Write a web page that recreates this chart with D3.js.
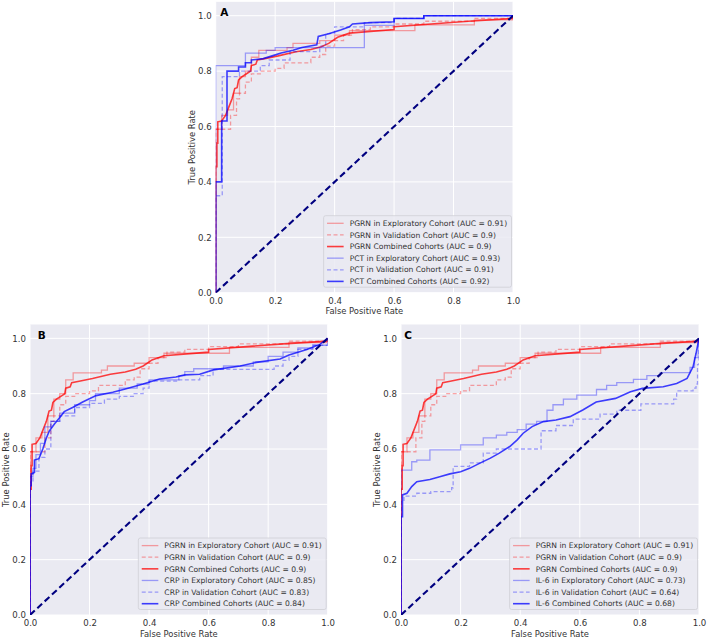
<!DOCTYPE html>
<html><head><meta charset="utf-8">
<script src="https://cdn.jsdelivr.net/npm/d3@7"></script>
<style>
body{margin:0;background:#fff;}
svg{display:block;}
text{font-family:"DejaVu Sans",sans-serif;}
</style>
</head><body>
<svg id="chart" width="708" height="640"></svg>
<script>
// ---------- DATA (fpr, tpr) ----------
const fprTicks = [0, 0.2, 0.4, 0.6, 0.8, 1.0];
const tprTicks = [0, 0.2, 0.4, 0.6, 0.8, 1.0];
const tickLabels = ["0.0", "0.2", "0.4", "0.6", "0.8", "1.0"];

// step-curves: each point [fpr, tpr] = at this fpr the curve rises to tpr
const pgrnExploratory = [[0,0],[0,0.59],[0.02,0.64],[0.04,0.66],[0.06,0.72],[0.08,0.78],[0.10,0.80],[0.12,0.85],[0.145,0.875],[0.24,0.885],[0.26,0.90],[0.35,0.91],[0.40,0.93],[0.45,0.946],[0.67,0.967],[0.87,0.985],[1.0,1.0]];
const pgrnValidation = [[0,0],[0,0.59],[0.05,0.64],[0.07,0.70],[0.08,0.72],[0.10,0.76],[0.12,0.79],[0.15,0.80],[0.20,0.81],[0.23,0.83],[0.32,0.85],[0.35,0.86],[0.37,0.89],[0.40,0.91],[0.43,0.93],[0.46,0.95],[0.52,0.96],[0.60,0.97],[0.70,0.98],[0.87,0.99],[1.0,1.0]];
// combined curves: vertices joined by straight segments
const pgrnCombined = [[0,0],[0,0.455],[0.004,0.455],[0.004,0.54],[0.007,0.54],[0.007,0.617],[0.02,0.62],[0.033,0.64],[0.044,0.67],[0.055,0.70],[0.06,0.72],[0.064,0.737],[0.072,0.74],[0.077,0.768],[0.089,0.78],[0.11,0.795],[0.117,0.80],[0.12,0.82],[0.135,0.825],[0.14,0.84],[0.165,0.845],[0.21,0.855],[0.27,0.87],[0.32,0.878],[0.355,0.888],[0.38,0.90],[0.41,0.922],[0.45,0.937],[0.60,0.95],[0.60,0.96],[0.85,0.98],[1.0,0.99],[1.0,1.0]];

const pctExploratory = [[0,0],[0,0.82],[0.10,0.865],[0.17,0.875],[0.20,0.885],[0.50,0.965],[0.60,0.99],[0.70,1.0],[1.0,1.0]];
const pctValidation = [[0,0],[0,0.35],[0.022,0.78],[0.08,0.80],[0.15,0.82],[0.18,0.84],[0.25,0.87],[0.35,0.89],[0.37,0.935],[0.40,0.96],[0.50,0.975],[0.60,0.99],[0.70,1.0],[1.0,1.0]];
const pctCombined = [[0,0],[0,0.40],[0.02,0.40],[0.02,0.62],[0.038,0.62],[0.038,0.80],[0.077,0.80],[0.077,0.815],[0.10,0.815],[0.10,0.83],[0.12,0.83],[0.12,0.84],[0.16,0.845],[0.19,0.855],[0.22,0.865],[0.26,0.875],[0.29,0.885],[0.34,0.895],[0.345,0.925],[0.38,0.935],[0.42,0.948],[0.45,0.96],[0.46,0.97],[0.52,0.975],[0.60,0.978],[0.60,0.99],[0.70,0.99],[0.70,1.0],[1.0,1.0]];

const crpExploratory = [[0,0],[0,0.50],[0.01,0.53],[0.02,0.58],[0.035,0.62],[0.05,0.68],[0.07,0.70],[0.10,0.73],[0.15,0.76],[0.20,0.775],[0.22,0.80],[0.30,0.82],[0.36,0.835],[0.40,0.85],[0.50,0.865],[0.52,0.88],[0.55,0.89],[0.65,0.90],[0.75,0.915],[0.80,0.935],[0.85,0.95],[0.90,0.965],[0.95,0.975],[1.0,1.0]];
const crpValidation = [[0,0],[0,0.48],[0.01,0.52],[0.03,0.57],[0.05,0.60],[0.07,0.70],[0.10,0.72],[0.15,0.75],[0.20,0.765],[0.25,0.78],[0.30,0.79],[0.35,0.80],[0.38,0.82],[0.40,0.845],[0.50,0.85],[0.57,0.865],[0.615,0.888],[0.82,0.90],[0.85,0.92],[0.87,0.935],[0.90,0.96],[0.95,0.975],[1.0,1.0]];
const crpCombined = [[0,0],[0,0.467],[0.004,0.467],[0.004,0.51],[0.015,0.515],[0.015,0.56],[0.03,0.565],[0.043,0.60],[0.055,0.64],[0.065,0.665],[0.082,0.69],[0.10,0.714],[0.115,0.735],[0.143,0.75],[0.177,0.77],[0.222,0.793],[0.278,0.805],[0.32,0.817],[0.38,0.835],[0.435,0.853],[0.49,0.86],[0.52,0.868],[0.57,0.87],[0.616,0.886],[0.706,0.90],[0.76,0.913],[0.84,0.925],[0.87,0.94],[0.93,0.96],[0.974,0.978],[1.0,1.0]];

const il6Exploratory = [[0,0],[0,0.524],[0.036,0.554],[0.053,0.56],[0.097,0.597],[0.20,0.615],[0.276,0.64],[0.32,0.65],[0.355,0.66],[0.39,0.67],[0.42,0.69],[0.455,0.70],[0.49,0.74],[0.51,0.76],[0.545,0.78],[0.59,0.795],[0.656,0.815],[0.69,0.83],[0.724,0.84],[0.78,0.852],[0.825,0.865],[0.87,0.876],[0.97,0.895],[0.985,0.93],[0.997,0.99],[1.0,1.0]];
const il6Validation = [[0,0],[0,0.41],[0.01,0.43],[0.053,0.44],[0.10,0.446],[0.17,0.46],[0.175,0.537],[0.23,0.55],[0.276,0.585],[0.32,0.60],[0.47,0.666],[0.52,0.685],[0.578,0.708],[0.668,0.726],[0.724,0.74],[0.805,0.763],[0.915,0.78],[0.925,0.81],[0.98,0.82],[0.99,0.835],[0.995,0.905],[1.0,1.0]];
const il6Combined = [[0,0],[0,0.355],[0.005,0.355],[0.005,0.434],[0.02,0.44],[0.036,0.464],[0.053,0.482],[0.097,0.49],[0.13,0.50],[0.164,0.51],[0.20,0.518],[0.23,0.53],[0.265,0.549],[0.30,0.567],[0.33,0.585],[0.365,0.609],[0.39,0.633],[0.41,0.657],[0.44,0.681],[0.478,0.699],[0.52,0.705],[0.567,0.717],[0.61,0.741],[0.655,0.77],[0.72,0.783],[0.77,0.807],[0.81,0.819],[0.88,0.825],[0.925,0.837],[0.96,0.855],[0.98,0.897],[0.99,0.945],[1.0,1.0]];

const chanceLine = [[0,0],[1,1]];

const legendA = ["PGRN in Exploratory Cohort (AUC = 0.91)","PGRN in Validation Cohort (AUC = 0.9)","PGRN Combined Cohorts (AUC = 0.9)","PCT in Exploratory Cohort (AUC = 0.93)","PCT in Validation Cohort (AUC = 0.91)","PCT Combined Cohorts (AUC = 0.92)"];
const legendB = ["PGRN in Exploratory Cohort (AUC = 0.91)","PGRN in Validation Cohort (AUC = 0.9)","PGRN Combined Cohorts (AUC = 0.9)","CRP in Exploratory Cohort (AUC = 0.85)","CRP in Validation Cohort (AUC = 0.83)","CRP Combined Cohorts (AUC = 0.84)"];
const legendC = ["PGRN in Exploratory Cohort (AUC = 0.91)","PGRN in Validation Cohort (AUC = 0.9)","PGRN Combined Cohorts (AUC = 0.9)","IL-6 in Exploratory Cohort (AUC = 0.73)","IL-6 in Validation Cohort (AUC = 0.64)","IL-6 Combined Cohorts (AUC = 0.68)"];

const xLabel = "False Positive Rate";
const yLabel = "True Positive Rate";

// ---------- STYLES ----------
const styles = [
  {color:"rgb(255,0,0)", opacity:0.35, width:1.3, dash:null, step:true},
  {color:"rgb(255,0,0)", opacity:0.35, width:1.3, dash:"4,2.5", step:true},
  {color:"rgb(255,0,0)", opacity:0.75, width:1.6, dash:null, step:false},
  {color:"rgb(0,0,255)", opacity:0.35, width:1.3, dash:null, step:true},
  {color:"rgb(0,0,255)", opacity:0.35, width:1.3, dash:"4,2.5", step:true},
  {color:"rgb(0,0,255)", opacity:0.75, width:1.6, dash:null, step:false}
];

const panels = [
  {name:"A", left:215.7, right:513, top:1.85, bottom:292.7, labelDx:4.6,
   series:[pgrnExploratory,pgrnValidation,pgrnCombined,pctExploratory,pctValidation,pctCombined], legend:legendA},
  {name:"B", left:30, right:327.7, top:324.5, bottom:615, labelDx:7.7,
   series:[pgrnExploratory,pgrnValidation,pgrnCombined,crpExploratory,crpValidation,crpCombined], legend:legendB},
  {name:"C", left:401, right:699, top:324.5, bottom:615, labelDx:3.3,
   series:[pgrnExploratory,pgrnValidation,pgrnCombined,il6Exploratory,il6Validation,il6Combined], legend:legendC}
];

const svg = d3.select("#chart");
const textColor = "#333";

panels.forEach((p, pi) => {
  const x = d3.scaleLinear().domain([0, 1]).range([p.left, p.right]);
  const y = d3.scaleLinear().domain([0, 1.05]).range([p.bottom, p.top]);
  const g = svg.append("g");

  g.append("rect").attr("x", p.left).attr("y", p.top)
    .attr("width", p.right - p.left).attr("height", p.bottom - p.top)
    .attr("fill", "#EAEAF2");

  // grid
  g.selectAll(".vg").data(fprTicks).join("line")
    .attr("x1", d => x(d)).attr("x2", d => x(d))
    .attr("y1", p.top).attr("y2", p.bottom)
    .attr("stroke", "#fff").attr("stroke-width", 1);
  g.selectAll(".hg").data(tprTicks).join("line")
    .attr("y1", d => y(d)).attr("y2", d => y(d))
    .attr("x1", p.left).attr("x2", p.right)
    .attr("stroke", "#fff").attr("stroke-width", 1);

  // axes
  const xAxis = d3.axisBottom(x).tickValues(fprTicks).tickFormat((d, i) => tickLabels[i]).tickSize(0).tickPadding(5);
  const yAxis = d3.axisLeft(y).tickValues(tprTicks).tickFormat((d, i) => tickLabels[i]).tickSize(0).tickPadding(4);
  const gx = g.append("g").attr("transform", `translate(0,${p.bottom})`).call(xAxis);
  const gy = g.append("g").attr("transform", `translate(${p.left},0)`).call(yAxis);
  [gx, gy].forEach(a => {
    a.select(".domain").remove();
    a.selectAll("text").attr("fill", textColor).style("font-size", "8.6px").style("font-family", "DejaVu Sans");
  });

  g.append("text").attr("x", (p.left + p.right) / 2).attr("y", p.bottom + 21.5)
    .attr("text-anchor", "middle").attr("fill", textColor).style("font-size", "8.4px").text(xLabel);
  g.append("text")
    .attr("transform", `translate(${p.left - 24},${(p.top + p.bottom) / 2}) rotate(-90)`)
    .attr("text-anchor", "middle").attr("dy", "0.35em").attr("fill", textColor).style("font-size", "8.4px").text(yLabel);

  // clip
  const clipId = "clip" + pi;
  svg.append("defs").append("clipPath").attr("id", clipId)
    .append("rect").attr("x", p.left).attr("y", p.top)
    .attr("width", p.right - p.left).attr("height", p.bottom - p.top);
  const plot = g.append("g").attr("clip-path", `url(#${clipId})`);

  p.series.forEach((s, si) => {
    const st = styles[si];
    const line = d3.line().x(d => x(d[0])).y(d => y(d[1]))
      .curve(st.step ? d3.curveStepAfter : d3.curveLinear);
    plot.append("path").datum(s).attr("d", line)
      .attr("fill", "none").attr("stroke", st.color).attr("stroke-opacity", st.opacity)
      .attr("stroke-width", st.width).attr("stroke-dasharray", st.dash)
      .attr("stroke-linejoin", "miter");
  });

  const diag = d3.line().x(d => x(d[0])).y(d => y(d[1]));
  plot.append("path").datum(chanceLine).attr("d", diag)
    .attr("fill", "none").attr("stroke", "#000080").attr("stroke-width", 2.1)
    .attr("stroke-dasharray", "6.5,3.5");

  // panel label
  g.append("text").attr("x", p.left + p.labelDx).attr("y", y(1.0) + 0.5)
    .attr("fill", "#000").style("font-size", "10.5px").style("font-weight", "bold").text(p.name);

  // legend
  const rowH = 11.62, padTop = 7.6, padBottom = 5.8;
  const lg = g.append("g");
  const boxBottom = p.bottom - 5.5;
  const boxH = padTop + 5 * rowH + padBottom;
  const boxTop = boxBottom - boxH;
  const box = lg.append("rect").attr("y", boxTop).attr("height", boxH)
    .attr("fill", "#EAEAF2").attr("fill-opacity", 0.85)
    .attr("stroke", "#cfcfd6").attr("stroke-width", 0.8).attr("rx", 2);
  const texts = p.legend.map((t, i) => lg.append("text")
    .attr("y", boxTop + padTop + i * rowH).attr("dy", "0.35em")
    .attr("fill", textColor).style("font-size", "7.6px").text(t));
  const maxW = d3.max(texts, t => t.node().getComputedTextLength());
  const boxRight = p.right - 1.5;
  const textX = boxRight - 4.4 - maxW;
  const boxLeft = textX - 6 - 16.6 - 3.4;
  box.attr("x", boxLeft).attr("width", boxRight - boxLeft);
  texts.forEach(t => t.attr("x", textX));
  p.legend.forEach((t, i) => {
    const st = styles[i];
    const yy = boxTop + padTop + i * rowH;
    lg.append("line").attr("x1", boxLeft + 3.4).attr("x2", boxLeft + 20)
      .attr("y1", yy).attr("y2", yy)
      .attr("stroke", st.color).attr("stroke-opacity", st.opacity)
      .attr("stroke-width", st.width).attr("stroke-dasharray", st.dash);
  });
});
</script>
</body></html>
